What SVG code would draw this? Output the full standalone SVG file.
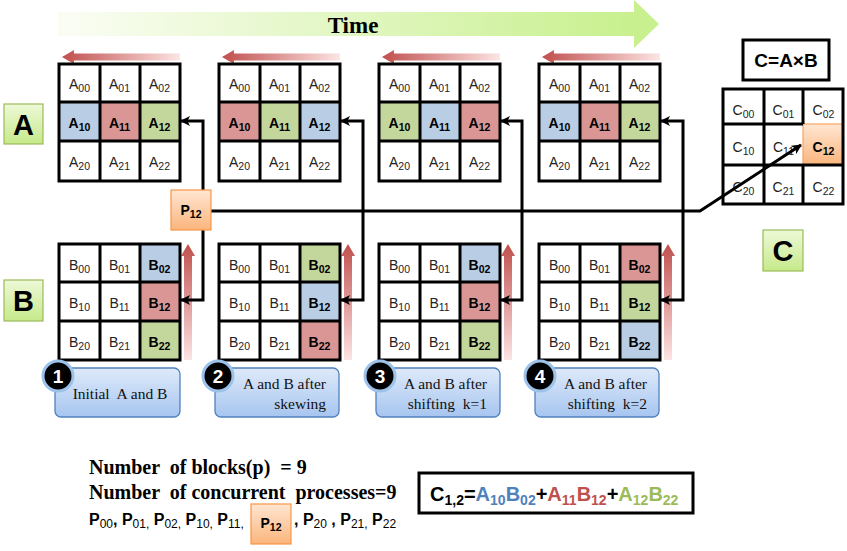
<svg xmlns="http://www.w3.org/2000/svg" width="847" height="551" viewBox="0 0 847 551">
<defs>
<linearGradient id="gTime" x1="0" y1="0" x2="1" y2="0"><stop offset="0" stop-color="#fbfdf5"/><stop offset="1" stop-color="#c8f08e"/></linearGradient>
<linearGradient id="gRedH" x1="0" y1="0" x2="1" y2="0"><stop offset="0" stop-color="#c0504d"/><stop offset="1" stop-color="#fde4e4"/></linearGradient>
<linearGradient id="gRedV" x1="0" y1="0" x2="0" y2="1"><stop offset="0" stop-color="#c0504d"/><stop offset="1" stop-color="#fde4e4"/></linearGradient>
<linearGradient id="gGreen" x1="0" y1="0" x2="0" y2="1"><stop offset="0" stop-color="#eef9d8"/><stop offset="1" stop-color="#c6e98a"/></linearGradient>
<linearGradient id="gOrange" x1="0" y1="0" x2="0" y2="1"><stop offset="0" stop-color="#ffe6d2"/><stop offset="1" stop-color="#fbb57c"/></linearGradient>
<linearGradient id="gBlue" x1="0" y1="0" x2="0" y2="1"><stop offset="0" stop-color="#dfeafa"/><stop offset="1" stop-color="#a6c5ef"/></linearGradient>
<marker id="ah" viewBox="0 0 10 10" refX="9" refY="5" markerWidth="10" markerHeight="10" markerUnits="userSpaceOnUse" orient="auto-start-reverse"><path d="M0,0 L10,5 L0,10 L2.5,5 z" fill="#000"/></marker>
</defs>
<style>
.cell{font-family:"Liberation Sans",Arial,sans-serif;font-size:14px;text-anchor:middle;fill:#222}
.cell tspan.s{font-size:10.5px}
.bold{font-weight:bold;fill:#000}
.grid{fill:none;stroke:#000;stroke-width:3}
.blue{fill:#b9cde5}.red{fill:#d99694}.green{fill:#c3d69b}
.conn{fill:none;stroke:#000;stroke-width:3}
.step{font-family:"Liberation Serif","Times New Roman",serif;font-size:15.5px;fill:#111}
.lbl{font-family:"Liberation Sans",Arial,sans-serif;font-weight:bold;font-size:29px;text-anchor:middle;fill:#000}
.num{font-family:"Liberation Sans",Arial,sans-serif;font-weight:bold;font-size:19px;text-anchor:middle;fill:#fff}
.info{font-family:"Liberation Serif","Times New Roman",serif;font-weight:bold;font-size:20px;fill:#000}
.pl{font-family:"Liberation Sans",Arial,sans-serif;font-weight:bold;font-size:16px;fill:#000}
.pl tspan.s{font-size:12px;font-weight:normal}
</style>

<g id="time">
<rect x="58" y="12" width="578" height="24" fill="url(#gTime)"/>
<polygon points="634,0 659,24 634,48" fill="#c8f08e"/>
<text x="353" y="33" text-anchor="middle" style="font-family:'Liberation Serif','Times New Roman',serif;font-weight:bold;font-size:23px">Time</text>
</g>

<g id="shiftArrows">
<polygon points="62,57 74,50 74,53.5 180,53.5 180,60.5 74,60.5 74,64" fill="url(#gRedH)"/>
<polygon points="222,57 234,50 234,53.5 340,53.5 340,60.5 234,60.5 234,64" fill="url(#gRedH)"/>
<polygon points="382,57 394,50 394,53.5 500,53.5 500,60.5 394,60.5 394,64" fill="url(#gRedH)"/>
<polygon points="542,57 554,50 554,53.5 660,53.5 660,60.5 554,60.5 554,64" fill="url(#gRedH)"/>
<polygon points="188,244 195,256 192,256 192,360 184,360 184,256 181,256" fill="url(#gRedV)"/>
<polygon points="348,244 355,256 352,256 352,360 344,360 344,256 341,256" fill="url(#gRedV)"/>
<polygon points="508,244 515,256 512,256 512,360 504,360 504,256 501,256" fill="url(#gRedV)"/>
<polygon points="668,244 675,256 672,256 672,360 664,360 664,256 661,256" fill="url(#gRedV)"/>
</g>

<g id="labelA"><rect x="4" y="104" width="39" height="40" fill="url(#gGreen)" stroke="#9bbb59" stroke-width="1.2"/><text class="lbl" x="23.5" y="135">A</text></g>
<g id="labelB"><rect x="4" y="280" width="39" height="41" fill="url(#gGreen)" stroke="#9bbb59" stroke-width="1.2"/><text class="lbl" x="23.5" y="311">B</text></g>
<g id="labelC"><rect x="763" y="230" width="40" height="41" fill="url(#gGreen)" stroke="#9bbb59" stroke-width="1.2"/><text class="lbl" x="783" y="261">C</text></g>

<!-- A grids -->
<g id="gridA1" transform="translate(59,64)">
<rect class="blue" x="0" y="38" width="41" height="39"/><rect class="red" x="41" y="38" width="40" height="39"/><rect class="green" x="81" y="38" width="40" height="39"/>
<path class="grid" d="M0,0H121V117H0Z M41,0V117 M81,0V117 M0,38H121 M0,77H121"/>
<text class="cell" x="20.5" y="25">A<tspan class="s" dy="3">00</tspan></text><text class="cell" x="60.5" y="25">A<tspan class="s" dy="3">01</tspan></text><text class="cell" x="100.5" y="25">A<tspan class="s" dy="3">02</tspan></text>
<text class="cell bold" x="20.5" y="64">A<tspan class="s" dy="3">10</tspan></text><text class="cell bold" x="60.5" y="64">A<tspan class="s" dy="3">11</tspan></text><text class="cell bold" x="100.5" y="64">A<tspan class="s" dy="3">12</tspan></text>
<text class="cell" x="20.5" y="103">A<tspan class="s" dy="3">20</tspan></text><text class="cell" x="60.5" y="103">A<tspan class="s" dy="3">21</tspan></text><text class="cell" x="100.5" y="103">A<tspan class="s" dy="3">22</tspan></text>
</g>
<g id="gridA2" transform="translate(219,64)">
<rect class="red" x="0" y="38" width="41" height="39"/><rect class="green" x="41" y="38" width="40" height="39"/><rect class="blue" x="81" y="38" width="40" height="39"/>
<path class="grid" d="M0,0H121V117H0Z M41,0V117 M81,0V117 M0,38H121 M0,77H121"/>
<text class="cell" x="20.5" y="25">A<tspan class="s" dy="3">00</tspan></text><text class="cell" x="60.5" y="25">A<tspan class="s" dy="3">01</tspan></text><text class="cell" x="100.5" y="25">A<tspan class="s" dy="3">02</tspan></text>
<text class="cell bold" x="20.5" y="64">A<tspan class="s" dy="3">10</tspan></text><text class="cell bold" x="60.5" y="64">A<tspan class="s" dy="3">11</tspan></text><text class="cell bold" x="100.5" y="64">A<tspan class="s" dy="3">12</tspan></text>
<text class="cell" x="20.5" y="103">A<tspan class="s" dy="3">20</tspan></text><text class="cell" x="60.5" y="103">A<tspan class="s" dy="3">21</tspan></text><text class="cell" x="100.5" y="103">A<tspan class="s" dy="3">22</tspan></text>
</g>
<g id="gridA3" transform="translate(379,64)">
<rect class="green" x="0" y="38" width="41" height="39"/><rect class="blue" x="41" y="38" width="40" height="39"/><rect class="red" x="81" y="38" width="40" height="39"/>
<path class="grid" d="M0,0H121V117H0Z M41,0V117 M81,0V117 M0,38H121 M0,77H121"/>
<text class="cell" x="20.5" y="25">A<tspan class="s" dy="3">00</tspan></text><text class="cell" x="60.5" y="25">A<tspan class="s" dy="3">01</tspan></text><text class="cell" x="100.5" y="25">A<tspan class="s" dy="3">02</tspan></text>
<text class="cell bold" x="20.5" y="64">A<tspan class="s" dy="3">10</tspan></text><text class="cell bold" x="60.5" y="64">A<tspan class="s" dy="3">11</tspan></text><text class="cell bold" x="100.5" y="64">A<tspan class="s" dy="3">12</tspan></text>
<text class="cell" x="20.5" y="103">A<tspan class="s" dy="3">20</tspan></text><text class="cell" x="60.5" y="103">A<tspan class="s" dy="3">21</tspan></text><text class="cell" x="100.5" y="103">A<tspan class="s" dy="3">22</tspan></text>
</g>
<g id="gridA4" transform="translate(539,64)">
<rect class="blue" x="0" y="38" width="41" height="39"/><rect class="red" x="41" y="38" width="40" height="39"/><rect class="green" x="81" y="38" width="40" height="39"/>
<path class="grid" d="M0,0H121V117H0Z M41,0V117 M81,0V117 M0,38H121 M0,77H121"/>
<text class="cell" x="20.5" y="25">A<tspan class="s" dy="3">00</tspan></text><text class="cell" x="60.5" y="25">A<tspan class="s" dy="3">01</tspan></text><text class="cell" x="100.5" y="25">A<tspan class="s" dy="3">02</tspan></text>
<text class="cell bold" x="20.5" y="64">A<tspan class="s" dy="3">10</tspan></text><text class="cell bold" x="60.5" y="64">A<tspan class="s" dy="3">11</tspan></text><text class="cell bold" x="100.5" y="64">A<tspan class="s" dy="3">12</tspan></text>
<text class="cell" x="20.5" y="103">A<tspan class="s" dy="3">20</tspan></text><text class="cell" x="60.5" y="103">A<tspan class="s" dy="3">21</tspan></text><text class="cell" x="100.5" y="103">A<tspan class="s" dy="3">22</tspan></text>
</g>

<!-- B grids -->
<g id="gridB1" transform="translate(59,244)">
<rect class="blue" x="81" y="0" width="40" height="38"/><rect class="red" x="81" y="38" width="40" height="39"/><rect class="green" x="81" y="77" width="40" height="39"/>
<path class="grid" d="M0,0H121V116H0Z M41,0V116 M81,0V116 M0,38H121 M0,77H121"/>
<text class="cell" x="20.5" y="26">B<tspan class="s" dy="3">00</tspan></text><text class="cell" x="60.5" y="26">B<tspan class="s" dy="3">01</tspan></text><text class="cell bold" x="100.5" y="26">B<tspan class="s" dy="3">02</tspan></text>
<text class="cell" x="20.5" y="64">B<tspan class="s" dy="3">10</tspan></text><text class="cell" x="60.5" y="64">B<tspan class="s" dy="3">11</tspan></text><text class="cell bold" x="100.5" y="64">B<tspan class="s" dy="3">12</tspan></text>
<text class="cell" x="20.5" y="103">B<tspan class="s" dy="3">20</tspan></text><text class="cell" x="60.5" y="103">B<tspan class="s" dy="3">21</tspan></text><text class="cell bold" x="100.5" y="103">B<tspan class="s" dy="3">22</tspan></text>
</g>
<g id="gridB2" transform="translate(219,244)">
<rect class="green" x="81" y="0" width="40" height="38"/><rect class="blue" x="81" y="38" width="40" height="39"/><rect class="red" x="81" y="77" width="40" height="39"/>
<path class="grid" d="M0,0H121V116H0Z M41,0V116 M81,0V116 M0,38H121 M0,77H121"/>
<text class="cell" x="20.5" y="26">B<tspan class="s" dy="3">00</tspan></text><text class="cell" x="60.5" y="26">B<tspan class="s" dy="3">01</tspan></text><text class="cell bold" x="100.5" y="26">B<tspan class="s" dy="3">02</tspan></text>
<text class="cell" x="20.5" y="64">B<tspan class="s" dy="3">10</tspan></text><text class="cell" x="60.5" y="64">B<tspan class="s" dy="3">11</tspan></text><text class="cell bold" x="100.5" y="64">B<tspan class="s" dy="3">12</tspan></text>
<text class="cell" x="20.5" y="103">B<tspan class="s" dy="3">20</tspan></text><text class="cell" x="60.5" y="103">B<tspan class="s" dy="3">21</tspan></text><text class="cell bold" x="100.5" y="103">B<tspan class="s" dy="3">22</tspan></text>
</g>
<g id="gridB3" transform="translate(379,244)">
<rect class="blue" x="81" y="0" width="40" height="38"/><rect class="red" x="81" y="38" width="40" height="39"/><rect class="green" x="81" y="77" width="40" height="39"/>
<path class="grid" d="M0,0H121V116H0Z M41,0V116 M81,0V116 M0,38H121 M0,77H121"/>
<text class="cell" x="20.5" y="26">B<tspan class="s" dy="3">00</tspan></text><text class="cell" x="60.5" y="26">B<tspan class="s" dy="3">01</tspan></text><text class="cell bold" x="100.5" y="26">B<tspan class="s" dy="3">02</tspan></text>
<text class="cell" x="20.5" y="64">B<tspan class="s" dy="3">10</tspan></text><text class="cell" x="60.5" y="64">B<tspan class="s" dy="3">11</tspan></text><text class="cell bold" x="100.5" y="64">B<tspan class="s" dy="3">12</tspan></text>
<text class="cell" x="20.5" y="103">B<tspan class="s" dy="3">20</tspan></text><text class="cell" x="60.5" y="103">B<tspan class="s" dy="3">21</tspan></text><text class="cell bold" x="100.5" y="103">B<tspan class="s" dy="3">22</tspan></text>
</g>
<g id="gridB4" transform="translate(539,244)">
<rect class="red" x="81" y="0" width="40" height="38"/><rect class="green" x="81" y="38" width="40" height="39"/><rect class="blue" x="81" y="77" width="40" height="39"/>
<path class="grid" d="M0,0H121V116H0Z M41,0V116 M81,0V116 M0,38H121 M0,77H121"/>
<text class="cell" x="20.5" y="26">B<tspan class="s" dy="3">00</tspan></text><text class="cell" x="60.5" y="26">B<tspan class="s" dy="3">01</tspan></text><text class="cell bold" x="100.5" y="26">B<tspan class="s" dy="3">02</tspan></text>
<text class="cell" x="20.5" y="64">B<tspan class="s" dy="3">10</tspan></text><text class="cell" x="60.5" y="64">B<tspan class="s" dy="3">11</tspan></text><text class="cell bold" x="100.5" y="64">B<tspan class="s" dy="3">12</tspan></text>
<text class="cell" x="20.5" y="103">B<tspan class="s" dy="3">20</tspan></text><text class="cell" x="60.5" y="103">B<tspan class="s" dy="3">21</tspan></text><text class="cell bold" x="100.5" y="103">B<tspan class="s" dy="3">22</tspan></text>
</g>

<!-- C grid -->
<g id="gridC" transform="translate(723,89)">
<rect x="80" y="35" width="40" height="41" fill="url(#gOrange)" stroke="#f79646" stroke-width="1"/>
<path class="grid" d="M0,0H120V115H0Z M41,0V115 M80,0V35 M80,76V115 M0,35H80 M0,76H120"/>
<text class="cell" x="20.5" y="26">C<tspan class="s" dy="3">00</tspan></text><text class="cell" x="60.5" y="26">C<tspan class="s" dy="3">01</tspan></text><text class="cell" x="100.5" y="26">C<tspan class="s" dy="3">02</tspan></text>
<text class="cell" x="20.5" y="63">C<tspan class="s" dy="3">10</tspan></text><text class="cell" x="60.5" y="63">C<tspan class="s" dy="3">11</tspan></text><text class="cell bold" x="100.5" y="63">C<tspan class="s" dy="3">12</tspan></text>
<text class="cell" x="20.5" y="103">C<tspan class="s" dy="3">20</tspan></text><text class="cell" x="60.5" y="103">C<tspan class="s" dy="3">21</tspan></text><text class="cell" x="100.5" y="103">C<tspan class="s" dy="3">22</tspan></text>
</g>

<g id="formulaTitle"><rect x="743" y="40" width="86" height="40" fill="#fff" stroke="#000" stroke-width="3"/><text x="786" y="67" text-anchor="middle" style="font-family:'Liberation Sans',Arial,sans-serif;font-weight:bold;font-size:19px">C=A×B</text></g>

<g id="connectors">
<path class="conn" d="M203,190V121H181" marker-end="url(#ah)"/>
<path class="conn" d="M203,230V300H181" marker-end="url(#ah)"/>
<path class="conn" d="M341,121H363V300H341" marker-start="url(#ah)" marker-end="url(#ah)"/>
<path class="conn" d="M501,121H522V300H501" marker-start="url(#ah)" marker-end="url(#ah)"/>
<path class="conn" d="M661,121H683V300H661" marker-start="url(#ah)" marker-end="url(#ah)"/>
<path class="conn" d="M211,211H700L801,145" marker-end="url(#ah)"/>
</g>

<g id="p12"><rect x="171" y="190" width="40" height="40" fill="url(#gOrange)" stroke="#f79646" stroke-width="1.2"/><text class="cell bold" x="191" y="215">P<tspan class="s" dy="3">12</tspan></text></g>

<g id="step1"><rect x="55" y="368" width="125" height="49" rx="6" fill="url(#gBlue)" stroke="#4f81bd" stroke-width="1.3"/><circle cx="58" cy="376" r="15" fill="#000" stroke="#9cc2ea" stroke-width="3"/><text class="num" x="58" y="383">1</text><text class="step" x="120" y="399" text-anchor="middle" xml:space="preserve">Initial  A and B</text></g>
<g id="step2"><rect x="215" y="368" width="124" height="49" rx="6" fill="url(#gBlue)" stroke="#4f81bd" stroke-width="1.3"/><circle cx="218" cy="376" r="15" fill="#000" stroke="#9cc2ea" stroke-width="3"/><text class="num" x="218" y="383">2</text><text class="step" x="326" y="389" text-anchor="end">A and B after</text><text class="step" x="326" y="409" text-anchor="end">skewing</text></g>
<g id="step3"><rect x="376" y="368" width="124" height="49" rx="6" fill="url(#gBlue)" stroke="#4f81bd" stroke-width="1.3"/><circle cx="380" cy="376" r="15" fill="#000" stroke="#9cc2ea" stroke-width="3"/><text class="num" x="380" y="383">3</text><text class="step" x="487" y="389" text-anchor="end">A and B after</text><text class="step" x="487" y="409" text-anchor="end" xml:space="preserve">shifting  k=1</text></g>
<g id="step4"><rect x="535" y="368" width="124" height="49" rx="6" fill="url(#gBlue)" stroke="#4f81bd" stroke-width="1.3"/><circle cx="540" cy="376" r="15" fill="#000" stroke="#9cc2ea" stroke-width="3"/><text class="num" x="540" y="383">4</text><text class="step" x="647" y="389" text-anchor="end">A and B after</text><text class="step" x="647" y="409" text-anchor="end" xml:space="preserve">shifting  k=2</text></g>

<g id="info">
<text class="info" x="89" y="474" xml:space="preserve">Number  of blocks(p)  = 9</text>
<text class="info" x="89" y="499" xml:space="preserve">Number  of concurrent  processes=9</text>
<text class="pl" x="89" y="525">P<tspan class="s" dy="3">00</tspan><tspan dy="-3">, P</tspan><tspan class="s" dy="3">01,</tspan><tspan dy="-3"> P</tspan><tspan class="s" dy="3">02,</tspan><tspan dy="-3"> P</tspan><tspan class="s" dy="3">10,</tspan><tspan dy="-3"> P</tspan><tspan class="s" dy="3">11,</tspan></text>
<rect x="251" y="504" width="40" height="40" fill="url(#gOrange)" stroke="#f79646" stroke-width="1.2"/>
<text class="cell bold" x="271" y="528">P<tspan class="s" dy="3">12</tspan></text>
<text class="pl" x="294" y="525">, P<tspan class="s" dy="3">20</tspan><tspan dy="-3"> , P</tspan><tspan class="s" dy="3">21,</tspan><tspan dy="-3"> P</tspan><tspan class="s" dy="3">22</tspan></text>
</g>

<g id="formula">
<rect x="419" y="473" width="274" height="40" fill="#fff" stroke="#000" stroke-width="3"/>
<text x="430" y="501" style="font-family:'Liberation Sans',Arial,sans-serif;font-weight:bold;font-size:20px"><tspan fill="#000">C</tspan><tspan fill="#000" font-size="14" dy="4">1,2</tspan><tspan fill="#000" dy="-4">=</tspan><tspan fill="#4f81bd">A</tspan><tspan fill="#4f81bd" font-size="14" dy="4">10</tspan><tspan fill="#4f81bd" dy="-4">B</tspan><tspan fill="#4f81bd" font-size="14" dy="4">02</tspan><tspan fill="#000" dy="-4">+</tspan><tspan fill="#c0504d">A</tspan><tspan fill="#c0504d" font-size="14" dy="4">11</tspan><tspan fill="#c0504d" dy="-4">B</tspan><tspan fill="#c0504d" font-size="14" dy="4">12</tspan><tspan fill="#000" dy="-4">+</tspan><tspan fill="#9bbb59">A</tspan><tspan fill="#9bbb59" font-size="14" dy="4">12</tspan><tspan fill="#9bbb59" dy="-4">B</tspan><tspan fill="#9bbb59" font-size="14" dy="4">22</tspan></text>
</g>
</svg>
